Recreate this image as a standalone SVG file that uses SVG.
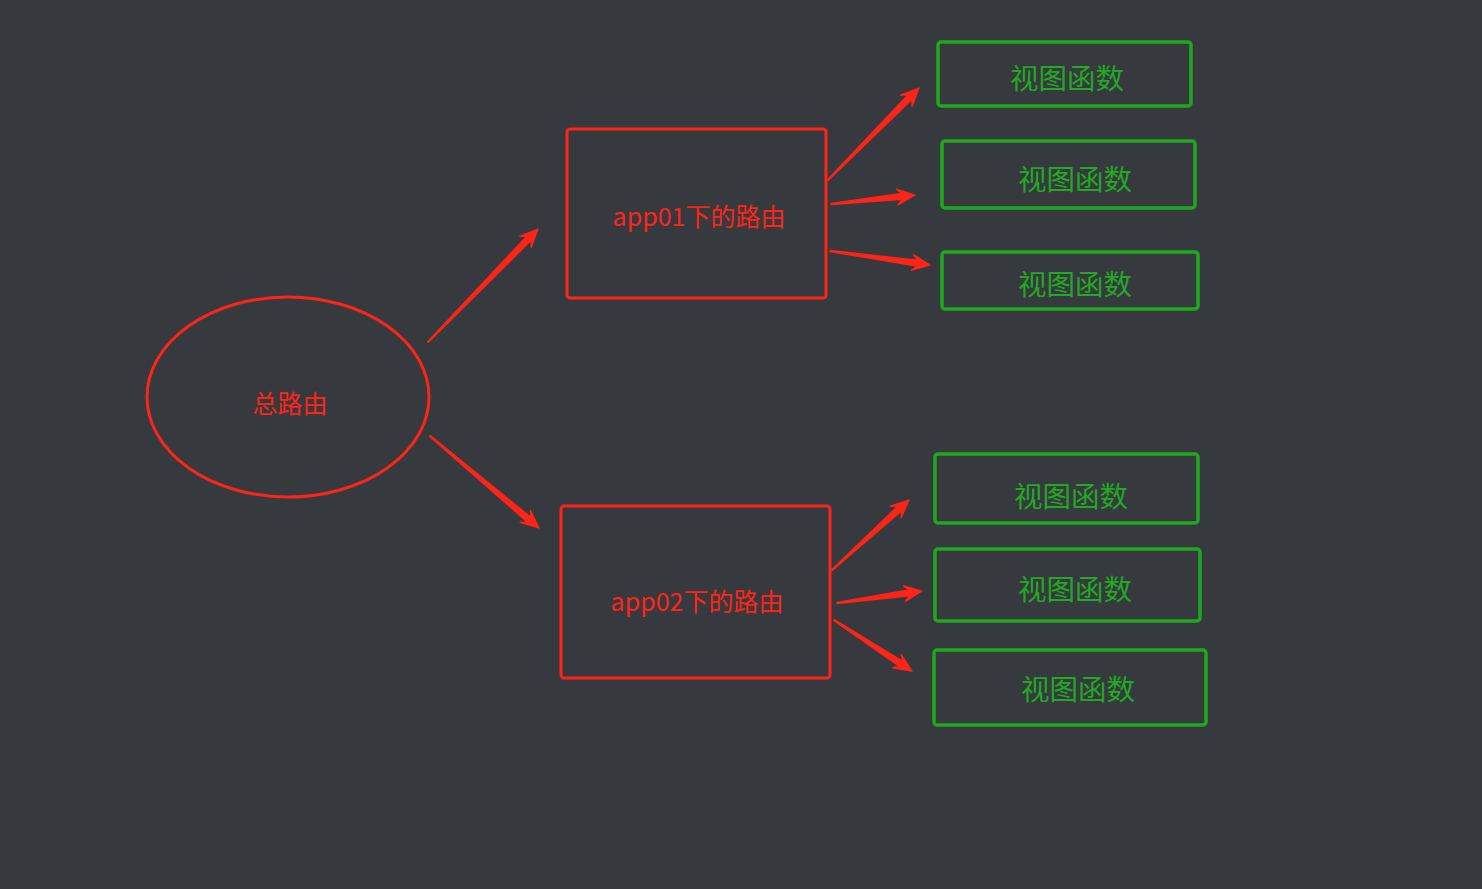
<svg xmlns="http://www.w3.org/2000/svg" width="1482" height="889" viewBox="0 0 1482 889">
<style>
.red{fill:none;stroke:#fd2418;stroke-width:3}
.grn{fill:none;stroke:#1ea81e;stroke-width:3.5}
.rt{fill:#fd2418;font-family:"Noto Sans CJK SC","Liberation Sans",sans-serif;font-size:25px;text-anchor:middle}
.gt{fill:#22a822;font-family:"Noto Sans CJK SC","Liberation Sans",sans-serif;font-size:28.5px;text-anchor:middle}
.arr{fill:#fd2418;stroke:#fd2418;stroke-width:1.3;stroke-linejoin:round}
</style>
<rect width="1482" height="889" fill="#363a3f"/>
<g id="root">
<ellipse class="red" cx="288" cy="397" rx="141" ry="100"/>
<text class="rt" x="290" y="413" font-size="26">总路由</text>
</g>
<g id="app01">
<rect class="red" x="567" y="129" width="259" height="169" rx="3"/>
<text class="rt" x="699" y="226">app01下的路由</text>
</g>
<g id="app02">
<rect class="red" x="561" y="506" width="269" height="172" rx="3"/>
<text class="rt" x="697" y="611">app02下的路由</text>
</g>
<g id="v1"><rect class="grn" x="938" y="42" width="253" height="64" rx="3"/><text class="gt" x="1067" y="89">视图函数</text></g>
<g id="v2"><rect class="grn" x="942" y="141" width="253" height="67" rx="3"/><text class="gt" x="1075" y="190">视图函数</text></g>
<g id="v3"><rect class="grn" x="942" y="252" width="256" height="57" rx="3"/><text class="gt" x="1075" y="295">视图函数</text></g>
<g id="v4"><rect class="grn" x="935" y="454" width="263" height="69" rx="3"/><text class="gt" x="1071" y="507">视图函数</text></g>
<g id="v5"><rect class="grn" x="935" y="549" width="265" height="72" rx="3"/><text class="gt" x="1075" y="600">视图函数</text></g>
<g id="v6"><rect class="grn" x="934" y="650" width="272" height="75" rx="3"/><text class="gt" x="1078" y="700">视图函数</text></g>
<g id="connectors">
<polygon class="arr" points="428.4,342.3 531.1,240.4 531.2,247.5 538,229 519.7,236.3 526.8,236.2 427.6,341.7"/>
<polygon class="arr" points="429.7,436.4 527.1,521.9 520.1,522.5 539,528 530.4,510.3 531,517.3 430.3,435.6"/>
<polygon class="arr" points="828.4,180.4 912,99.4 912,106.4 919,88 900.7,95.2 907.7,95.1 827.6,179.6"/>
<polygon class="arr" points="831,204.5 902.4,199.4 898,204.9 915,195 896.3,189 901.8,193.4 831,203.5"/>
<polygon class="arr" points="829.9,251.5 916.7,266.2 911.1,270.4 930,265 913.3,254.6 917.6,260.2 830.1,250.5"/>
<polygon class="arr" points="832.3,570.4 901.4,511 901.1,518 909,500 890.3,506.2 897.4,506.5 831.7,569.6"/>
<polygon class="arr" points="837.1,603.5 909.6,595.8 905.3,601.4 922,591 903.1,585.6 908.7,589.9 836.9,602.5"/>
<polygon class="arr" points="833.7,620.4 899.5,666.4 892.6,667.9 912,671 901.3,654.5 902.8,661.4 834.3,619.6"/>
</g>
</svg>
